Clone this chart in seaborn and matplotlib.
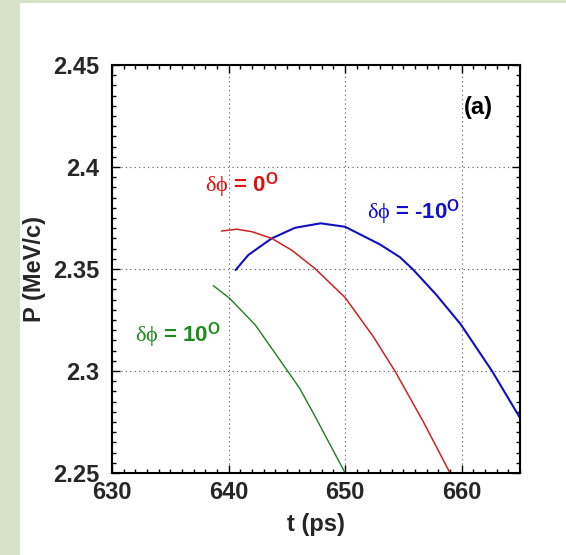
import numpy as np
import pandas as pd
import seaborn as sns
import matplotlib.pyplot as plt
from matplotlib.patches import Rectangle
from matplotlib.ticker import MultipleLocator

# curve samples (t in ps, P in MeV/c)
t_0 = [639.4, 640.7, 642.0, 643.7, 645.4, 647.4, 650.0, 652.4, 654.3, 656.7, 659.0]
p_0 = [2.3686, 2.3695, 2.3683, 2.3650, 2.3593, 2.3503, 2.3360, 2.3170, 2.2997, 2.2752, 2.2500]

t_m10 = [640.6, 641.7, 643.7, 645.7, 647.9, 650.0, 653.0, 654.7, 655.8, 657.8, 659.9, 662.6, 665.0]
p_m10 = [2.3495, 2.3569, 2.3650, 2.3702, 2.3724, 2.3707, 2.3620, 2.3558, 2.3499, 2.3375, 2.3230, 2.3000, 2.2770]

t_10 = [638.7, 640.1, 642.3, 645.1, 646.1, 647.4, 648.4, 650.0]
p_10 = [2.3418, 2.3356, 2.3225, 2.2997, 2.2915, 2.2780, 2.2672, 2.2500]

x_ticks = [630, 640, 650, 660]
y_ticks = [2.25, 2.3, 2.35, 2.4, 2.45]
y_tick_labels = ['2.25', '2.3', '2.35', '2.4', '2.45']

sns.set_style('ticks')
plt.rcParams['font.family'] = ['Liberation Sans', 'DejaVu Sans']
plt.rcParams['mathtext.fontset'] = 'custom'
plt.rcParams['mathtext.rm'] = 'Liberation Serif'
plt.rcParams['mathtext.it'] = 'Liberation Serif:italic'
plt.rcParams['mathtext.bf'] = 'Liberation Sans:bold'

fig = plt.figure(figsize=(5.66, 5.55), dpi=100)
fig.patch.set_facecolor('white')

# light green frame on left and top
fig.patches.append(Rectangle((0, 0), 20 / 566, 1, transform=fig.transFigure,
                             facecolor='#d7e3c6', edgecolor='none', zorder=-10))
fig.patches.append(Rectangle((0, 1 - 3 / 555), 1, 3 / 555, transform=fig.transFigure,
                             facecolor='#d7e3c6', edgecolor='none', zorder=-10))

ax = fig.add_axes([112 / 566, 1 - 473 / 555, 408 / 566, 408 / 555])

sns.lineplot(x=t_m10, y=p_m10, sort=False, color='#1010c0', linewidth=1.5, ax=ax)
sns.lineplot(x=t_0, y=p_0, sort=False, color='#cc2222', linewidth=1.1, ax=ax)
sns.lineplot(x=t_10, y=p_10, sort=False, color='#1f7f1f', linewidth=1.0, ax=ax)

ax.set_xlim(630, 665)
ax.set_ylim(2.25, 2.45)
ax.set_xticks(x_ticks)
ax.set_yticks(y_ticks)
ax.set_yticklabels(y_tick_labels)
ax.xaxis.set_minor_locator(MultipleLocator(1))
ax.yaxis.set_minor_locator(MultipleLocator(0.005))
ax.tick_params(which='both', direction='in', top=True, right=True, width=1.0, color='black')
ax.tick_params(which='major', length=6)
ax.tick_params(which='minor', length=3)
ax.tick_params(axis='x', which='major', labelsize=17, pad=6)
ax.tick_params(axis='y', which='major', labelsize=17, pad=9)
for lab in ax.get_xticklabels() + ax.get_yticklabels():
    lab.set_fontweight('bold')
for sp in ax.spines.values():
    sp.set_linewidth(1.5)
    sp.set_color('black')

ax.grid(True, which='major', linestyle=(0, (1, 3)), color='#555555', linewidth=0.8)

ax.set_xlabel('t (ps)', fontsize=17, fontweight='bold', labelpad=6)
ax.set_ylabel('P (MeV/c)', fontsize=17, fontweight='bold', labelpad=5)

ax.text(638.0, 2.391, r'$\mathrm{\delta\phi}$ = 0$^{\mathbf{O}}$', color='#e01010',
        fontsize=16, fontweight='bold', va='center', ha='left')
ax.text(651.9, 2.378, r'$\mathrm{\delta\phi}$ = -10$^{\mathbf{O}}$', color='#1010d0',
        fontsize=16, fontweight='bold', va='center', ha='left')
ax.text(632.0, 2.3176, r'$\mathrm{\delta\phi}$ = 10$^{\mathbf{O}}$', color='#1f8a1f',
        fontsize=16, fontweight='bold', va='center', ha='left')
ax.text(660.2, 2.429, '(a)', color='black', fontsize=17, fontweight='bold',
        va='center', ha='left')

fig.savefig('out.png', dpi=100)
